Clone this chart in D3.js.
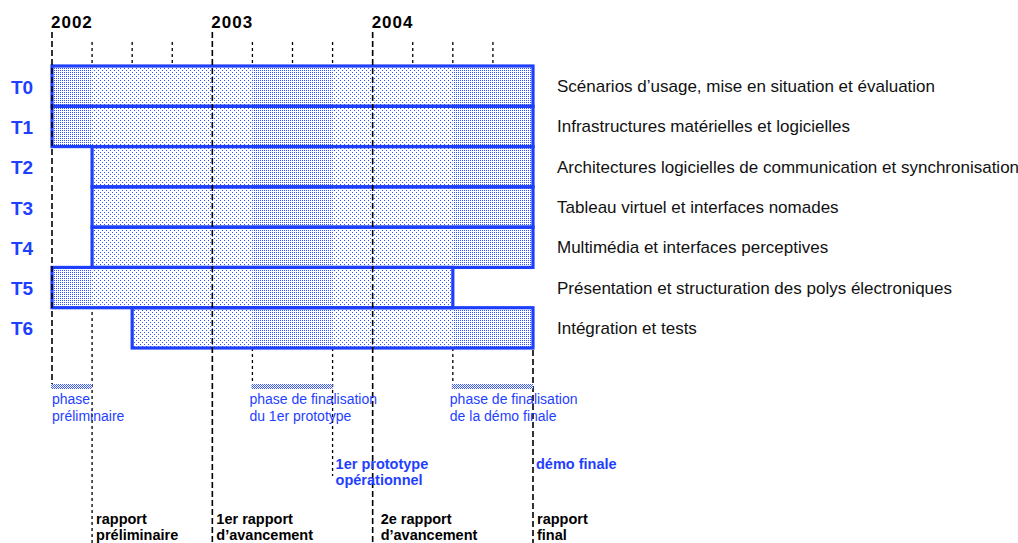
<!DOCTYPE html>
<html>
<head>
<meta charset="utf-8">
<script src="https://cdn.jsdelivr.net/npm/d3@7"></script>
<style>
  body { margin: 0; background: #fff; }
  svg { display: block; font-family: "Liberation Sans", Arial, sans-serif; }
</style>
</head>
<body>
<div id="chart"></div>
<script>
// data
const years = [2002, 2003, 2004]
const projectEnd = 2005
const tasks = ["T0", "T1", "T2", "T3", "T4", "T5", "T6"]
const taskNames = [
  "Scénarios d’usage, mise en situation et évaluation",
  "Infrastructures matérielles et logicielles",
  "Architectures logicielles de communication et synchronisation",
  "Tableau virtuel et interfaces nomades",
  "Multimédia et interfaces perceptives",
  "Présentation et structuration des polys électroniques",
  "Intégration et tests"
]
const taskStart = [2002, 2002, 2002.25, 2002.25, 2002.25, 2002, 2002.5]
const taskEnd = [2005, 2005, 2005, 2005, 2005, 2004.5, 2005]

const phaseStart = [2002, 2003.25, 2004.5]
const phaseEnd = [2002.25, 2003.75, 2005]
const phaseLabels = [
  ["phase", "préliminaire"],
  ["phase de finalisation", "du 1er prototype"],
  ["phase de finalisation", "de la démo finale"]
]

const milestoneDates = [2003.75, 2005]
const milestoneLabels = [["1er prototype", "opérationnel"], ["démo finale"]]

const reportDates = [2002.25, 2003, 2004, 2005]
const reportLabels = [
  ["rapport", "préliminaire"],
  ["1er rapport", "d’avancement"],
  ["2e rapport", "d’avancement"],
  ["rapport", "final"]
]

// dimensions
const width = 1018, height = 543
const blue = "#1f3fff"
const svg = d3.select("#chart").append("svg")
  .attr("width", width)
  .attr("height", height)

// scales
const x = d3.scaleLinear().domain([2002, projectEnd]).range([52, 533])
const y = d3.scaleBand().domain(tasks).range([66, 348]).padding(0)

const yearTop = 32, tickTop = 42
const barsBottom = y.range()[1]
const phaseY = 384
const milestoneEnd = 476

// patterns
const defs = svg.append("defs")
function dotPattern(id, size, dots, color) {
  const p = defs.append("pattern")
    .attr("id", id)
    .attr("patternUnits", "userSpaceOnUse")
    .attr("width", size).attr("height", size)
  p.append("rect").attr("width", size).attr("height", size).attr("fill", "#fff")
  dots.forEach(d => p.append("rect")
    .attr("x", d[0]).attr("y", d[1]).attr("width", 1).attr("height", 1)
    .attr("fill", color))
}
dotPattern("sparse", 4, [[0, 0], [2, 2]], "#2f52ff")
dotPattern("dense", 2, [[0, 0]], "#2f52ff")
dotPattern("hatch", 2, [[0, 0], [1, 1]], "#3a5cff")

// quarter guides (behind the bars)
const quarters = d3.range(2002.25, projectEnd, 0.25).filter(q => !years.includes(q))
function guideEnd(q) {
  if (reportDates.includes(q)) return height
  if (milestoneDates.includes(q)) return milestoneEnd
  if (phaseStart.includes(q)) return phaseY
  return y.range()[0]
}
svg.append("g").selectAll("line")
  .data(quarters)
  .join("line")
  .attr("x1", d => x(d)).attr("x2", d => x(d))
  .attr("y1", tickTop).attr("y2", d => guideEnd(d))
  .attr("stroke", "#000")
  .attr("stroke-width", 1.3)
  .attr("stroke-dasharray", "3,3")

// bars
const bars = svg.append("g")
tasks.forEach((t, i) => {
  bars.append("rect")
    .attr("x", x(taskStart[i]))
    .attr("y", y(t))
    .attr("width", x(taskEnd[i]) - x(taskStart[i]))
    .attr("height", y.bandwidth())
    .attr("fill", "url(#sparse)")
  phaseStart.forEach((ps, j) => {
    const s = Math.max(ps, taskStart[i]), e = Math.min(phaseEnd[j], taskEnd[i])
    if (e <= s) return
    bars.append("rect")
      .attr("x", x(s)).attr("y", y(t))
      .attr("width", x(e) - x(s)).attr("height", y.bandwidth())
      .attr("fill", "url(#dense)")
  })
})
bars.selectAll(".outline")
  .data(tasks)
  .join("rect")
  .attr("class", "outline")
  .attr("x", (d, i) => x(taskStart[i]))
  .attr("y", d => y(d))
  .attr("width", (d, i) => x(taskEnd[i]) - x(taskStart[i]))
  .attr("height", y.bandwidth())
  .attr("fill", "none")
  .attr("stroke", blue)
  .attr("stroke-width", 3.2)

// year lines (on top of bars)
svg.append("g").selectAll("line")
  .data(years)
  .join("line")
  .attr("x1", d => x(d)).attr("x2", d => x(d))
  .attr("y1", yearTop)
  .attr("y2", d => reportDates.includes(d) ? height : phaseY)
  .attr("stroke", "#000")
  .attr("stroke-width", 1.6)
  .attr("stroke-dasharray", "6,3")

// project end line
svg.append("line")
  .attr("x1", x(projectEnd)).attr("x2", x(projectEnd))
  .attr("y1", barsBottom + 2).attr("y2", height)
  .attr("stroke", "#000")
  .attr("stroke-width", 1.6)
  .attr("stroke-dasharray", "6,3")

// year labels
svg.append("g").selectAll("text")
  .data(years)
  .join("text")
  .attr("x", d => x(d) - 1)
  .attr("y", 28)
  .attr("font-size", 17)
  .attr("font-weight", "bold")
  .attr("letter-spacing", 1)
  .attr("fill", "#000")
  .text(d => d)

// task codes and names
svg.append("g").selectAll("text")
  .data(tasks)
  .join("text")
  .attr("x", 11)
  .attr("y", d => y(d) + y.bandwidth() / 2 + 7.5)
  .attr("font-size", 19)
  .attr("font-weight", "bold")
  .attr("fill", blue)
  .text(d => d)

svg.append("g").selectAll("text")
  .data(tasks)
  .join("text")
  .attr("x", 557)
  .attr("y", d => y(d) + y.bandwidth() / 2 + 6)
  .attr("font-size", 17)
  .attr("fill", "#111")
  .text((d, i) => taskNames[i])

// phase bars and labels
const ph = svg.append("g")
phaseStart.forEach((s, i) => {
  ph.append("rect")
    .attr("x", x(s) - 1).attr("y", phaseY)
    .attr("width", x(phaseEnd[i]) - x(s) + 1).attr("height", 5)
    .attr("fill", "url(#hatch)")
  phaseLabels[i].forEach((line, k) => ph.append("text")
    .attr("x", x(s) - 3 * (i > 0))
    .attr("y", 404 + k * 16.5)
    .attr("font-size", 14)
    .attr("fill", blue)
    .text(line))
})

// milestones
milestoneDates.forEach((m, i) => {
  milestoneLabels[i].forEach((line, k) => svg.append("text")
    .attr("x", x(m) + 3)
    .attr("y", 469 + k * 16)
    .attr("font-size", 14.5)
    .attr("font-weight", "bold")
    .attr("fill", blue)
    .text(line))
})

// reports
reportDates.forEach((r, i) => {
  reportLabels[i].forEach((line, k) => svg.append("text")
    .attr("x", x(r) + 4 + 4 * (r === 2004))
    .attr("y", 524 + k * 16)
    .attr("font-size", 14.5)
    .attr("font-weight", "bold")
    .attr("fill", "#000")
    .text(line))
})
</script>
</body>
</html>
